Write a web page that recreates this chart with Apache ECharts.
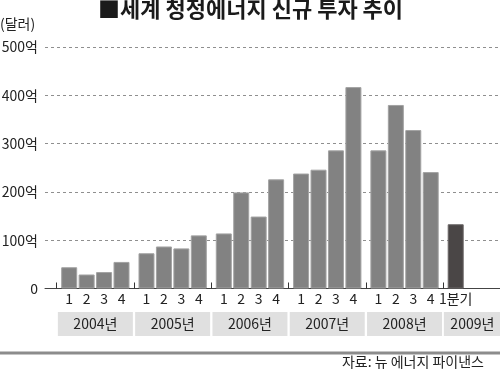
<!DOCTYPE html>
<html><head><meta charset="utf-8">
<script src="https://cdn.jsdelivr.net/npm/echarts@6/dist/echarts.min.js"></script>
<style>html,body{margin:0;padding:0;background:#fff}#c{width:500px;height:375px}</style>
</head><body><div id="c"></div>
<script>
const years = ['2004년','2005년','2006년','2007년','2008년','2009년'];
const quarterNames = ['1','2','3','4'];
const q1 = [44, 73, 114, 238, 286, 133];
const q2 = [29, 87, 199, 246, 380, null];
const q3 = [34, 83, 149, 286, 328, null];
const q4 = [55, 110, 226, 417, 241, null];
const yTicks = [0, 100, 200, 300, 400, 500];

const FONT = '"Noto Sans CJK KR", "Noto Sans", sans-serif';
const chart = echarts.init(document.getElementById('c'), null, {renderer: 'canvas'});
const quarterData = [q1, q2, q3, q4];
const lastIdx = years.length - 1;

const series = quarterData.map((arr, qi) => ({
  type: 'bar',
  name: quarterNames[qi],
  xAxisIndex: 1, yAxisIndex: 1,
  barWidth: 16,
  barGap: '9%',
  data: arr.map((v, i) => {
    if (v === null) return null;
    if (i === lastIdx) return {value: v, itemStyle: {color: '#4a4646', borderColor: '#6a6666'}};
    return v;
  }),
  itemStyle: {color: '#828282', borderColor: '#a3a3a3', borderWidth: 1},
  label: {
    show: true, position: 'bottom', distance: 3,
    fontFamily: FONT, fontSize: 14, color: '#222',
    formatter: p => (p.dataIndex === lastIdx ? quarterNames[qi] + '분기' : quarterNames[qi])
  },
  silent: true,
  animation: false
}));

chart.setOption({
  animation: false,
  textStyle: {fontFamily: FONT},
  grid: [
    {left: 45, width: 455, top: 47, bottom: 86.5, outerBoundsMode: 'none', containLabel: false},
    {left: 56.7, width: 463.8, top: 47, bottom: 86.5, outerBoundsMode: 'none', containLabel: false}
  ],
  xAxis: [
    {gridIndex: 0, type: 'category', data: [''], axisTick: {show: false}, axisLabel: {show: false},
     axisLine: {show: true, lineStyle: {color: '#444', width: 1}}},
    {gridIndex: 1, type: 'category',
     data: years,
     axisLine: {show: false},
     axisTick: {show: true, inside: true, length: 6, interval: 0, lineStyle: {color: '#333', width: 1}},
     axisLabel: {interval: 0, margin: 23.5, color: '#222', fontFamily: FONT, align: 'center',
       formatter: (v, i) => (i === lastIdx ? '{l|' + v + '}{p|}' : '{b|' + v + '}'),
       rich: {
         b: {width: 75, height: 24, lineHeight: 24, align: 'center', backgroundColor: '#e0e0e0', fontSize: 14, fontFamily: FONT, color: '#222'},
         l: {width: 57, height: 24, lineHeight: 24, align: 'center', backgroundColor: '#e0e0e0', fontSize: 14, fontFamily: FONT, color: '#222'},
         p: {width: 19, height: 24, backgroundColor: '#e0e0e0'}
       }}}
  ],
  yAxis: [
    {gridIndex: 0, type: 'value', min: yTicks[0], max: yTicks[yTicks.length - 1], interval: 100,
     axisLine: {show: false}, axisTick: {show: false},
     splitLine: {show: true, lineStyle: {color: '#8f8f8f', type: [3, 3], width: 1}},
     axisLabel: {margin: 7, fontSize: 14, color: '#222', fontFamily: FONT,
       formatter: v => (v === 0 ? '0' : v + '억')}},
    {gridIndex: 1, type: 'value', min: yTicks[0], max: yTicks[yTicks.length - 1], interval: 100,
     show: false, splitLine: {show: false}}
  ],
  series: series,
  graphic: [
    {type: 'text', left: 98, top: -2, style: {text: '■세계 청정에너지 신규 투자 추이', fontFamily: FONT, fontSize: 22, fontWeight: 'bold', fill: '#1a1a1a'}},
    {type: 'text', left: 0, top: 17, style: {text: '(달러)', fontFamily: FONT, fontSize: 14, fill: '#222'}},
    {type: 'rect', left: 0, top: 351.5, shape: {width: 500, height: 3}, style: {fill: '#8c8c8c'}},
    {type: 'text', right: 16, top: 355, style: {text: '자료: 뉴 에너지 파이낸스', fontFamily: FONT, fontSize: 14, fill: '#222'}}
  ]
});
</script></body></html>
